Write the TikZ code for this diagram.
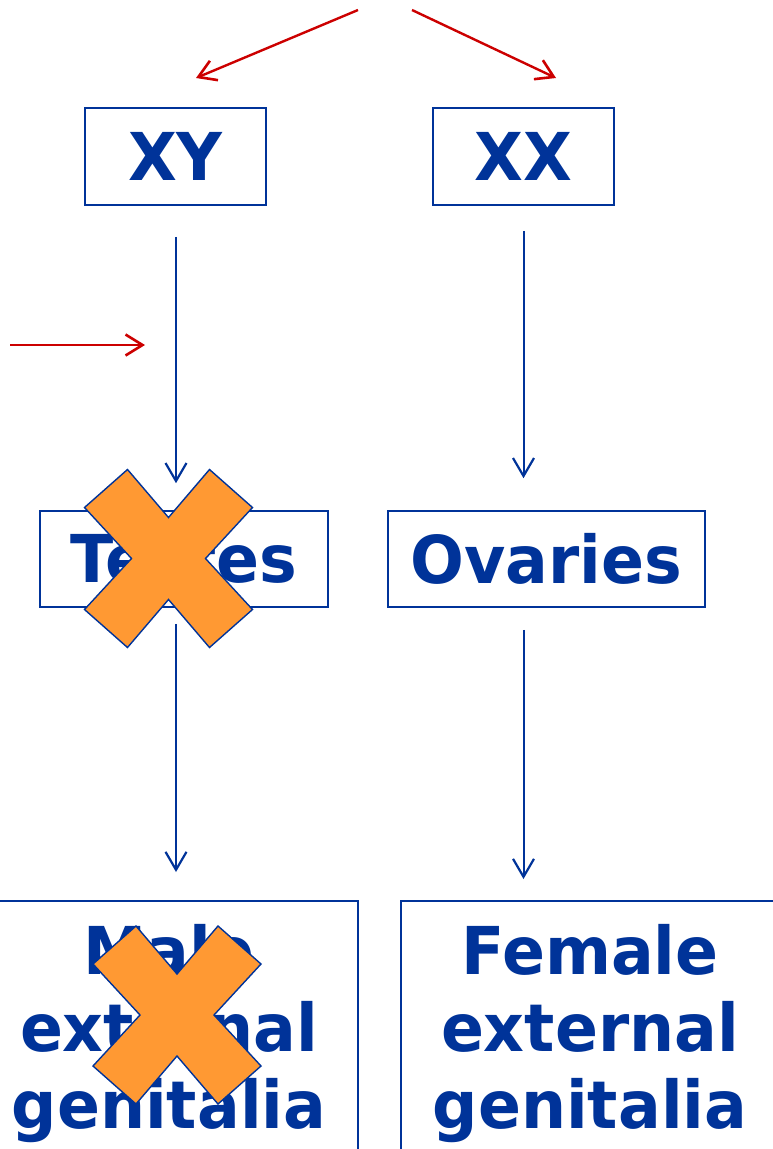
\documentclass[tikz,border=0pt]{standalone}
\usepackage{fontspec}
\setmainfont{DejaVu Sans}
\newfontfamily\boxfont[FakeStretch=0.96]{DejaVu Sans}
\usetikzlibrary{arrows.meta}
\definecolor{navy}{HTML}{003399}
\definecolor{crimson}{HTML}{CC0000}
\definecolor{tangerine}{HTML}{FF9933}
\begin{document}
\begin{tikzpicture}[x=1pt,y=-1pt,
    box/.style={draw=navy, line width=1.6pt, text=navy, font=\boxfont\fontsize{66}{77}\selectfont\bfseries, align=center},
    flow/.style={navy, line width=2pt, -{Straight Barb[length=18pt,width=21pt,line width=2.2pt]}},
    cue/.style={crimson, line width=2.4pt, -{Straight Barb[length=17pt,width=21pt,line width=2.6pt]}},
    cross/.style={fill=tangerine, draw=navy, line width=1.4pt, line join=miter}]
    \clip (0,0) rectangle (773,1149);
    % karyotypes
    \node[box, minimum width=181pt, minimum height=97pt] (XY) at (175.5,156.5) {XY};
    \node[box, minimum width=181pt, minimum height=97pt] (XX) at (523.5,156.5) {XX};
    % gonads
    \node[box, minimum width=288pt, minimum height=96pt] (T) at (184,559) {Testes};
    \node[box, minimum width=317pt, minimum height=96pt] (O) at (546.5,559) {Ovaries};
    % external genitalia
    \node[box, minimum width=378pt, minimum height=290pt, anchor=north, inner ysep=24pt, text depth=190pt]
        (M) at (169,900) {Male\\external\\genitalia};
    \node[box, minimum width=378pt, minimum height=290pt, anchor=north, inner ysep=24pt, text depth=190pt]
        (F) at (590,900) {Female\\external\\genitalia};
    % red cues
    \coordinate (S1) at (358,10);
    \coordinate (E1) at (196,78);
    \coordinate (S2) at (412,10);
    \coordinate (E2) at (556,78);
    \coordinate (S3) at (10,345);
    \coordinate (E3) at (145,345);
    \draw[cue] (S1) -- (E1);
    \draw[cue] (S2) -- (E2);
    \draw[cue] (S3) -- (E3);
    % pathways
    \draw[flow, shorten <=31pt, shorten >=27pt] (176,0 |- XY.south) -- (176,0 |- T.north);
    \draw[flow, shorten <=25pt, shorten >=32pt] (XX.south) -- (XX.south |- O.north);
    \draw[flow, shorten <=16pt, shorten >=28pt] (176,0 |- T.south) -- (176,0 |- M.north);
    \draw[flow, shorten <=22pt, shorten >=21pt] (XX.south |- O.south) -- (XX.south |- F.north);
    % blocked steps
    \foreach \cx/\cy in {168.5/558.5, 177/1015}
        \draw[cross, shift={(\cx,\cy)}] (0,-41) -- (41,-89) -- (84,-51) -- (37,0) -- (84,51) -- (41,89)
            -- (0,41) -- (-41,89) -- (-84,51) -- (-37,0) -- (-84,-51) -- (-41,-89) -- cycle;
\end{tikzpicture}
\end{document}
